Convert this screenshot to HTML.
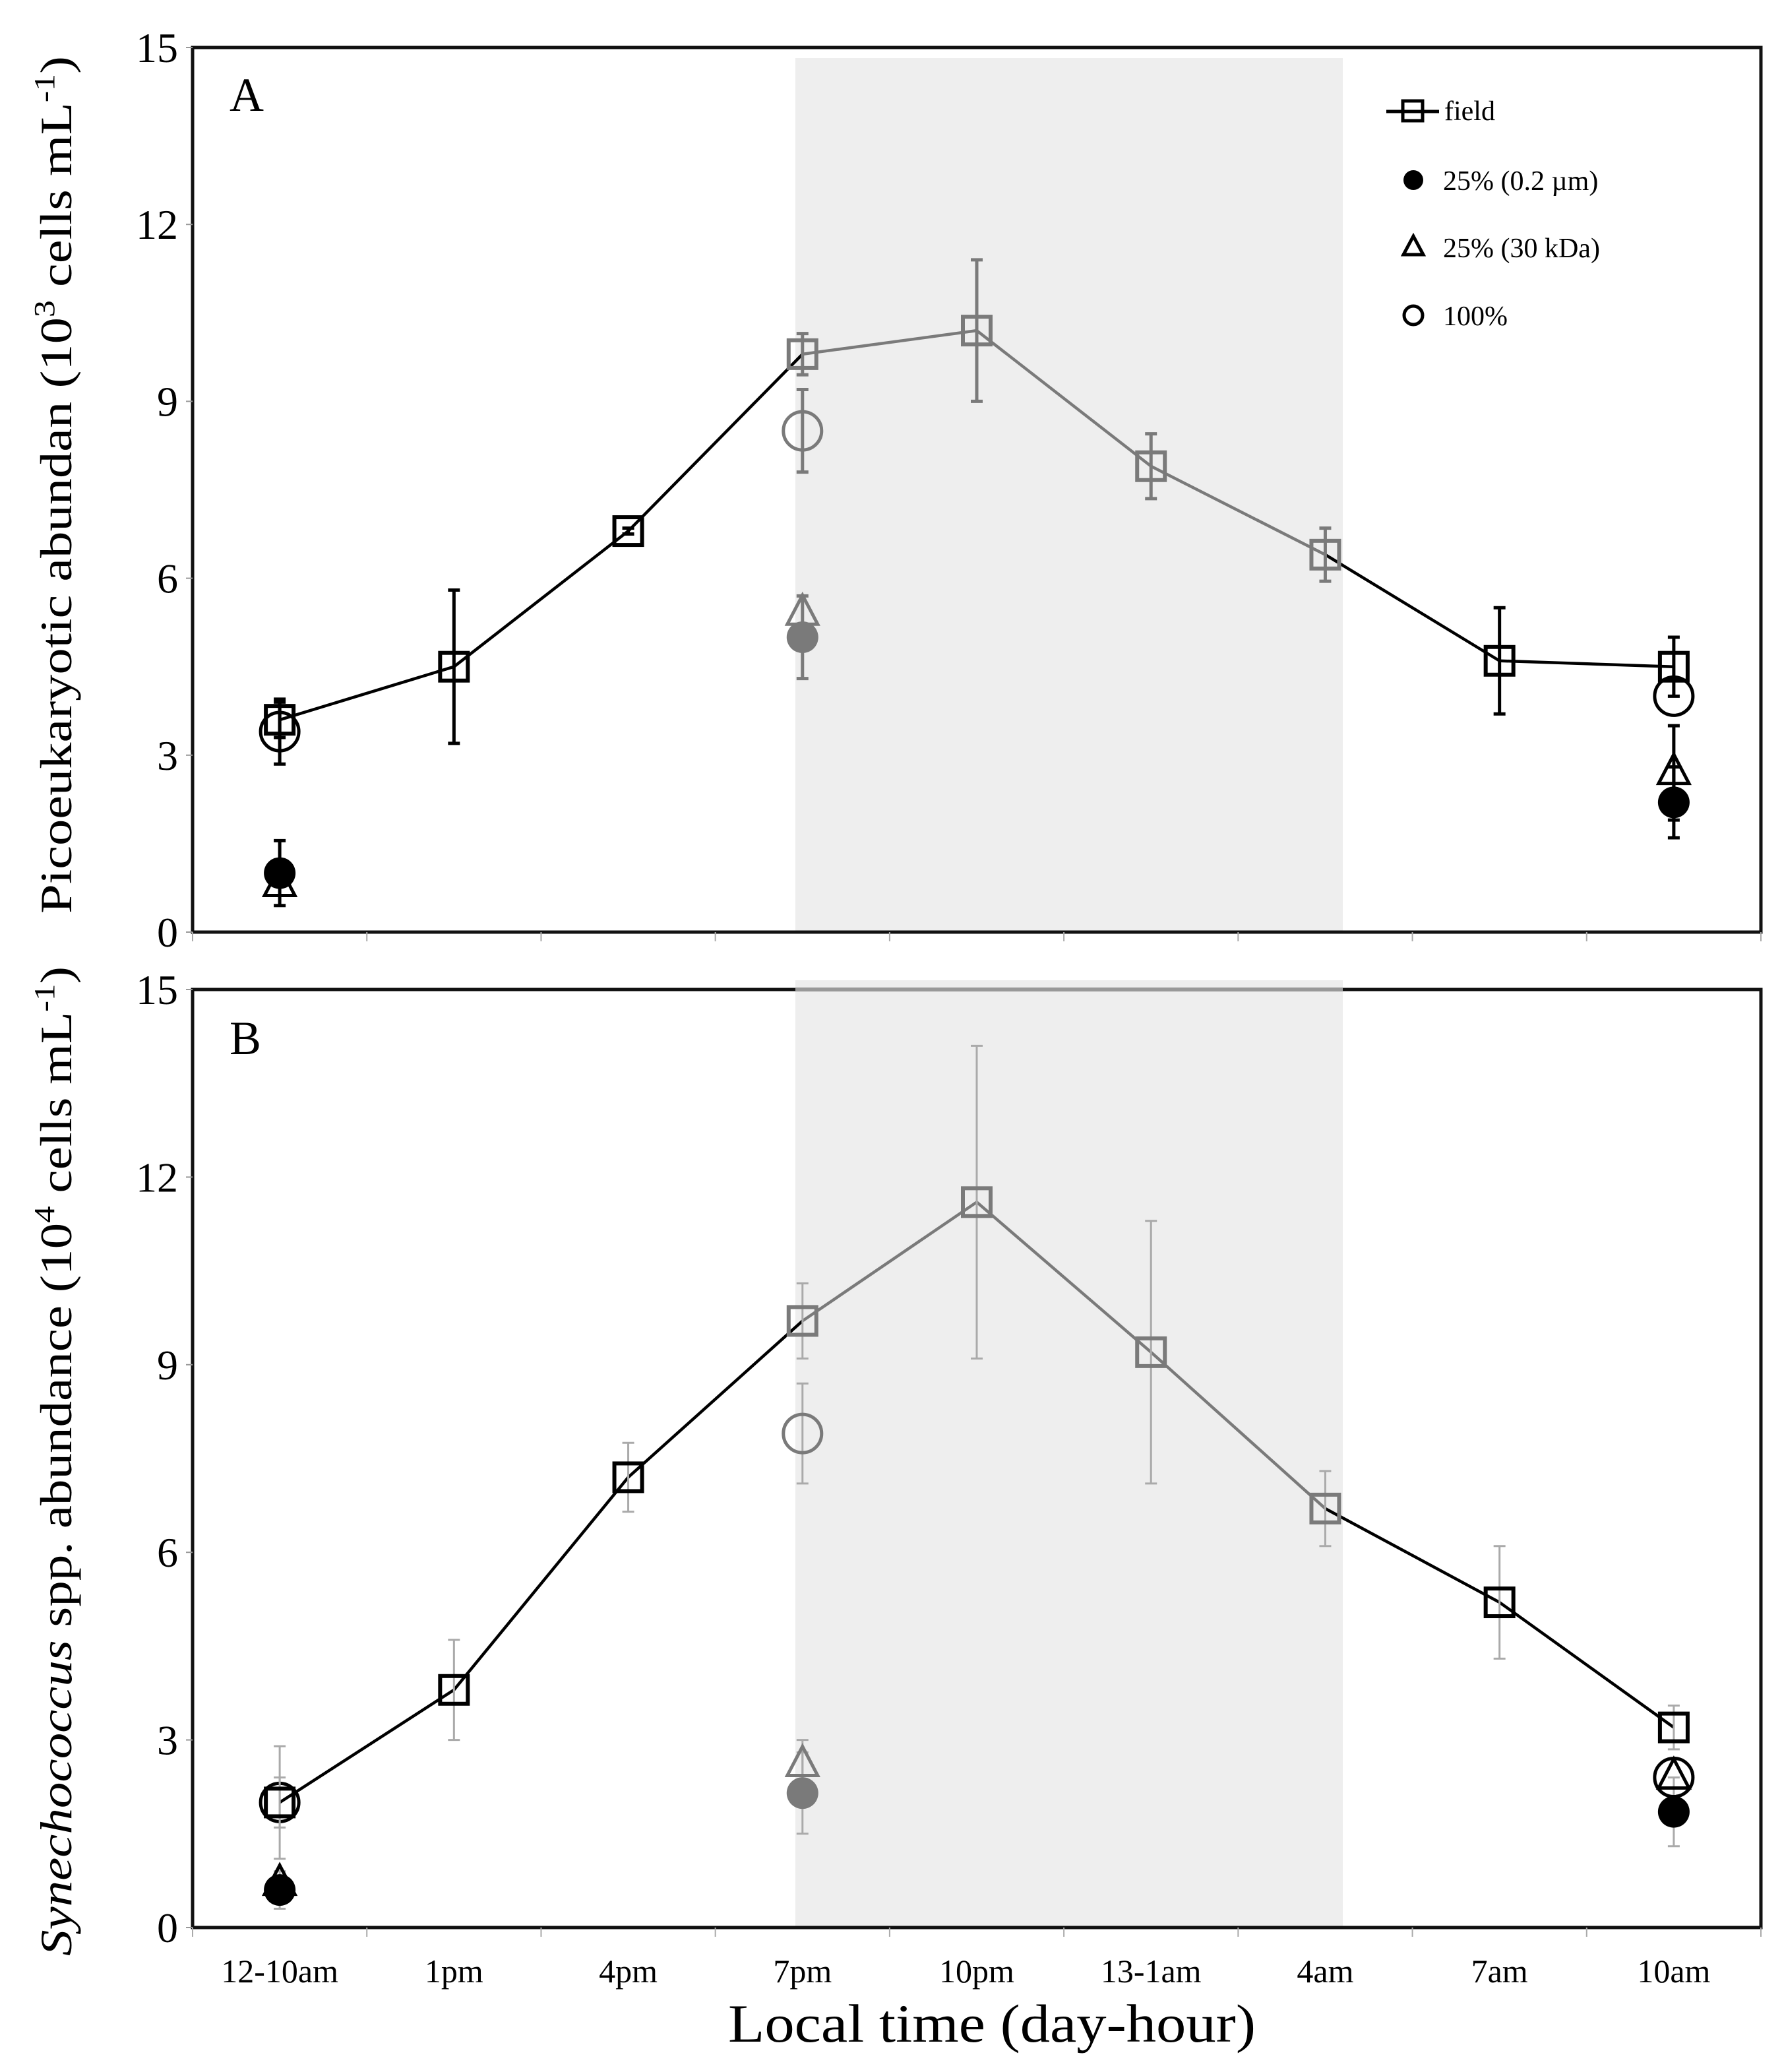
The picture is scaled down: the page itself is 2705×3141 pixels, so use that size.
<!DOCTYPE html>
<html><head><meta charset="utf-8">
<style>
html,body{margin:0;padding:0;background:#fff;}
svg{display:block;}
text{font-family:"Liberation Serif",serif;}
</style></head>
<body>
<svg id="chart" width="2705" height="3141" viewBox="0 0 2705 3141" xmlns="http://www.w3.org/2000/svg" font-family="Liberation Serif, serif">
</svg>
<script>
const categories = ["12-10am","1pm","4pm","7pm","10pm","13-1am","4am","7am","10am"];
const yTicks = [0,3,6,9,12,15];
// Panel A (10^3 cells/mL)
const aField = [3.6,4.5,6.8,9.8,10.2,7.9,6.4,4.6,4.5];
const aFieldErr = [0.3,1.3,0.05,0.35,1.2,0.55,0.45,0.9,0.5];
const treatIdx = [0,3,8];
const aCircle = [3.4,8.5,4.0];
const aCircleErr = [0.55,0.7,0];
const aDot = [1.0,5.0,2.2];
const aDotErr = [0.55,0.7,0.6];
const aTri = [0.8,5.4,2.7];
const aTriErr = [0,0,0.8];
// Panel B (10^4 cells/mL)
const bField = [2.0,3.8,7.2,9.7,11.6,9.2,6.7,5.2,3.2];
const bFieldErr = [0.9,0.8,0.55,0.6,2.5,2.1,0.6,0.9,0.35];
const bCircle = [2.0,7.9,2.4];
const bCircleErr = [0.4,0.8,0];
const bDot = [0.6,2.15,1.85];
const bDotErr = [0.3,0.65,0.55];
const bTri = [0.7,2.6,2.4];
const bTriErr = [0,0.4,0];

const NS="http://www.w3.org/2000/svg";
const svg=document.getElementById('chart');
function el(tag,attrs,parent,txt){const e=document.createElementNS(NS,tag);for(const k in attrs)e.setAttribute(k,attrs[k]);if(txt!==undefined)e.textContent=txt;(parent||svg).appendChild(e);return e;}
const L=292,R=2670;
const bw=(R-L)/categories.length;
function xs(i){return L+bw*(i+0.5);}
const GRAY="#7a7a7a";
function isGray(i){return i>=3&&i<=6;}
const SERIF='"Liberation Serif", serif';

function panel(cfg){
  const T=cfg.top,B=cfg.bottom;
  const ys=v=>B-(v/15)*(B-T);
  const g=el('g',{});
  
  
  const sh=el('rect',{x:1206,y:cfg.shadeTop,width:830,height:B-cfg.shadeTop,fill:'#eeeeee'},g);
  
  
  const fr=el('rect',{x:L,y:T,width:R-L,height:B-T,fill:'none',stroke:'#111','stroke-width':5},g);
  
  
  if(cfg.shadeTop<T){el('line',{x1:1206,y1:T,x2:2036,y2:T,stroke:'#999','stroke-width':6},g);}
  yTicks.forEach(v=>{
    el('line',{x1:L-10,y1:ys(v),x2:L,y2:ys(v),stroke:'#999','stroke-width':2},g);
    const t=el('text',{x:270,y:ys(v)+22,'text-anchor':'end','font-size':64,'font-family':SERIF},g,String(v));
    
    
  });
  for(let i=0;i<=categories.length;i++){
    el('line',{x1:L+bw*i,y1:B,x2:L+bw*i,y2:B+14,stroke:'#aaa','stroke-width':2},g);
  }
  const lt=el('text',{x:348,y:cfg.letterY,'font-size':72,'font-family':SERIF},g,cfg.letter);
  
  
  const ebW=cfg.thinErr?3:5;
  function err(x,v,e,col){
    if(!e)return;
    const c=cfg.thinErr?'#aaaaaa':col;
    el('line',{x1:x,y1:ys(v-e),x2:x,y2:ys(v+e),stroke:c,'stroke-width':ebW},g);
    el('line',{x1:x-9,y1:ys(v-e),x2:x+9,y2:ys(v-e),stroke:c,'stroke-width':ebW},g);
    el('line',{x1:x-9,y1:ys(v+e),x2:x+9,y2:ys(v+e),stroke:c,'stroke-width':ebW},g);
  }
  for(let i=0;i<cfg.field.length-1;i++){
    const col=(i>=3&&i<6)?GRAY:'#000';
    el('line',{x1:xs(i),y1:ys(cfg.field[i]),x2:xs(i+1),y2:ys(cfg.field[i+1]),stroke:col,'stroke-width':4.5},g);
  }
  treatIdx.forEach((ci,k)=>{
    const x=xs(ci);const col=ci===3?GRAY:'#000';
    err(x,cfg.dot[k],cfg.dotErr[k],col);
    err(x,cfg.tri[k],cfg.triErr[k],col);
    err(x,cfg.circ[k],cfg.circErr[k],col);
    const d=el('circle',{cx:x,cy:ys(cfg.dot[k]),r:24,fill:col},g);
    
    
    const yv=ys(cfg.tri[k]);
    const tr=el('polygon',{points:`${x},${yv-28} ${x-23},${yv+16} ${x+23},${yv+16}`,fill:'none',stroke:col,'stroke-width':5},g);
    
    
    const c=el('circle',{cx:x,cy:ys(cfg.circ[k]),r:29,fill:'none',stroke:col,'stroke-width':5},g);
    
    
  });
  cfg.field.forEach((v,i)=>{
    const col=isGray(i)?GRAY:'#000';
    err(xs(i),v,cfg.fieldErr[i],col);
    const s=el('rect',{x:xs(i)-21,y:ys(v)-21,width:42,height:42,fill:'none',stroke:col,'stroke-width':6},g);
    
    
  });
  const yl=el('text',{x:0,y:0,'font-size':68,'font-family':SERIF,'text-anchor':'middle',transform:`translate(108,${cfg.labelY}) rotate(-90)`,textLength:cfg.labelLen,lengthAdjust:'spacingAndGlyphs'},g);
  
  
  cfg.label(yl);
}
panel({name:'panel-a',top:72,bottom:1413,shadeTop:88,letter:'A',letterY:168,field:aField,fieldErr:aFieldErr,
  circ:aCircle,circErr:aCircleErr,dot:aDot,dotErr:aDotErr,tri:aTri,triErr:aTriErr,thinErr:false,
  labelY:735,labelLen:1300,
  label:t=>{el('tspan',{},t,'Picoeukaryotic abundan (10');el('tspan',{'font-size':44,dy:-26},t,'3');el('tspan',{dy:26},t,' cells mL');el('tspan',{'font-size':44,dy:-26},t,'-1');el('tspan',{dy:26},t,')');}});
panel({name:'panel-b',top:1500,bottom:2922,shadeTop:1486,letter:'B',letterY:1598,field:bField,fieldErr:bFieldErr,
  circ:bCircle,circErr:bCircleErr,dot:bDot,dotErr:bDotErr,tri:bTri,triErr:bTriErr,thinErr:true,
  labelY:2215,labelLen:1500,
  label:t=>{el('tspan',{'font-style':'italic'},t,'Synechococcus');el('tspan',{},t,' spp. abundance (10');el('tspan',{'font-size':44,dy:-26},t,'4');el('tspan',{dy:26},t,' cells mL');el('tspan',{'font-size':44,dy:-26},t,'-1');el('tspan',{dy:26},t,')');}});

categories.forEach((c,i)=>{
  const t=el('text',{x:xs(i),y:3005,'text-anchor':'middle','font-size':50,'font-family':SERIF},svg,c);
  
  
});
const xt=el('text',{x:1504,y:3095,'text-anchor':'middle','font-size':82,'font-family':SERIF,textLength:800,lengthAdjust:'spacingAndGlyphs'},svg,'Local  time (day-hour)');



const lg=el('g',{});


el('line',{x1:2102,y1:169,x2:2182,y2:169,stroke:'#000','stroke-width':5},lg);
el('rect',{x:2127,y:153,width:30,height:30,fill:'none',stroke:'#000','stroke-width':5},lg);
el('text',{x:2190,y:182,'font-size':42,'font-family':SERIF},lg,'field');
el('circle',{cx:2143,cy:273,r:15,fill:'#000'},lg);
el('text',{x:2188,y:288,'font-size':42,'font-family':SERIF},lg,'25% (0.2 µm)');
el('polygon',{points:'2143,358 2128,386 2158,386',fill:'none',stroke:'#000','stroke-width':5},lg);
el('text',{x:2188,y:390,'font-size':42,'font-family':SERIF},lg,'25% (30 kDa)');
el('circle',{cx:2143,cy:478,r:14,fill:'none',stroke:'#000','stroke-width':5},lg);
el('text',{x:2188,y:493,'font-size':42,'font-family':SERIF},lg,'100%');
</script>
</body></html>
